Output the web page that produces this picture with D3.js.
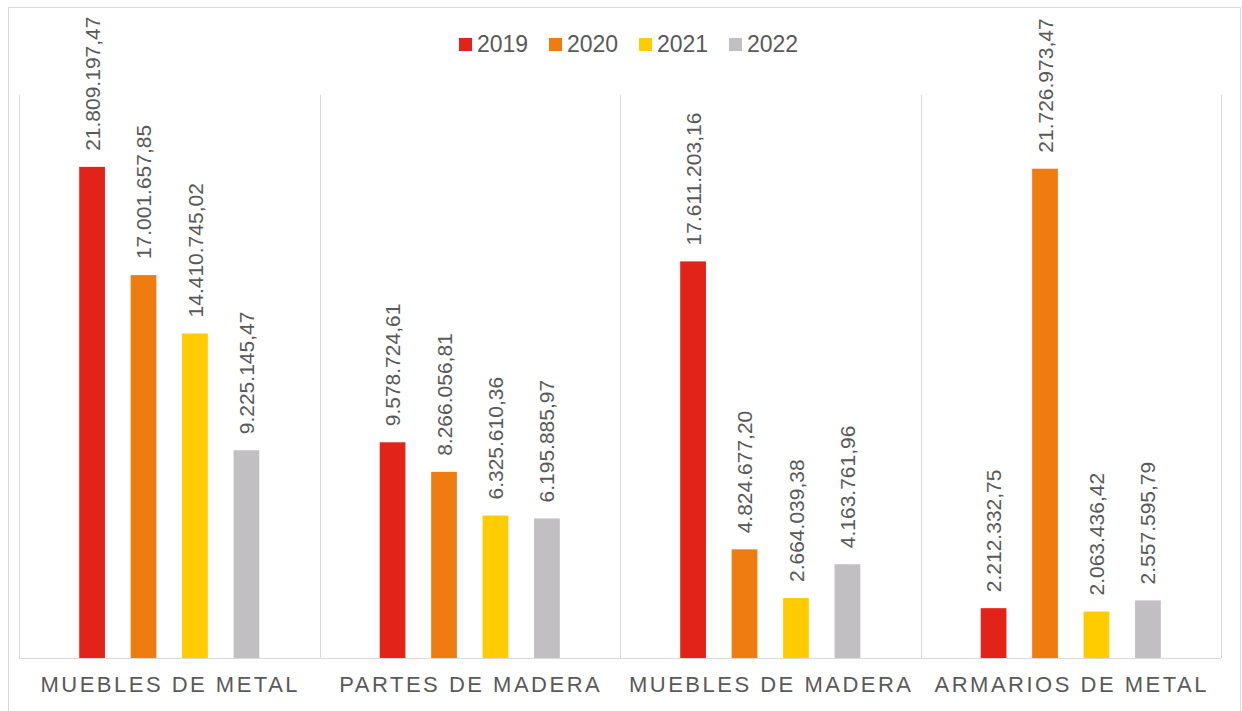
<!DOCTYPE html>
<html>
<head>
<meta charset="utf-8">
<script src="https://cdn.jsdelivr.net/npm/d3@7"></script>
<style>
  body { margin: 0; background: #fff; }
  text { font-family: Arial, "Liberation Sans", sans-serif; fill: #595959; }
</style>
</head>
<body>
<div id="chart-area"></div>
<script>
var categories = ['MUEBLES DE METAL', 'PARTES DE MADERA', 'MUEBLES DE MADERA', 'ARMARIOS DE METAL'];
var years = ['2019', '2020', '2021', '2022'];
var v2019 = [21809197.47, 9578724.61, 17611203.16, 2212332.75];
var v2020 = [17001657.85, 8266056.81, 4824677.20, 21726973.47];
var v2021 = [14410745.02, 6325610.36, 2664039.38, 2063436.42];
var v2022 = [9225145.47, 6195885.97, 4163761.96, 2557595.79];
var colors = ['#E2231A', '#EE7C11', '#FFCC00', '#C1BFC1'];

var series = [v2019, v2020, v2021, v2022];

var W = 1242, H = 711;
var margin = { top: 95, left: 19, bottom: 53, right: 21 };
var width = W - margin.left - margin.right;
var height = H - margin.top - margin.bottom;

var svg = d3.select('#chart-area').append('svg')
    .attr('width', W)
    .attr('height', H);

// outer frame
svg.append('rect')
    .attr('x', 8.5).attr('y', 7.5)
    .attr('width', 1232).attr('height', 710)
    .attr('fill', 'none')
    .attr('stroke', '#d9d9d9');

var g = svg.append('g').attr('transform', `translate(${margin.left}, ${margin.top})`);

var x0 = d3.scaleBand().domain(categories).range([0, width]);
var x1 = d3.scaleBand().domain(years).range([0, x0.bandwidth()]).paddingInner(0.5).paddingOuter(1.17);
var y = d3.scaleLinear().domain([0, 25000000]).range([height, 0]);

var fmt = d3.formatLocale({ decimal: ',', thousands: '.', grouping: [3], currency: ['', ''] }).format(',.2f');

// category separators
var seps = categories.map(c => x0(c)).concat([width]);
g.selectAll('.sep').data(seps).enter().append('line')
    .attr('class', 'sep')
    .attr('x1', d => Math.round(d) + 0.5).attr('x2', d => Math.round(d) + 0.5)
    .attr('y1', 0).attr('y2', height)
    .attr('stroke', '#d9d9d9');

g.append('line')
    .attr('x1', 0).attr('x2', width)
    .attr('y1', height + 0.5).attr('y2', height + 0.5)
    .attr('stroke', '#d9d9d9');

var rows = [];
categories.forEach((c, i) => {
    years.forEach((yr, j) => {
        rows.push({ cat: c, year: yr, value: series[j][i], color: colors[j] });
    });
});

g.selectAll('rect.bar').data(rows).enter().append('rect')
    .attr('class', 'bar')
    .attr('x', d => x0(d.cat) + x1(d.year))
    .attr('y', d => y(d.value))
    .attr('width', x1.bandwidth())
    .attr('height', d => height - y(d.value))
    .attr('fill', d => d.color);

g.selectAll('text.val').data(rows).enter().append('text')
    .attr('class', 'val')
    .attr('transform', d => `translate(${x0(d.cat) + x1(d.year) + x1.bandwidth() / 2}, ${y(d.value) - 16}) rotate(-90)`)
    .attr('dy', '0.36em')
    .attr('text-anchor', 'start')
    .attr('font-size', '21px')
    .text(d => fmt(d.value));

// category axis labels
g.selectAll('text.cat').data(categories).enter().append('text')
    .attr('class', 'cat')
    .attr('x', d => x0(d) + x0.bandwidth() / 2 + 1)
    .attr('y', height + 34)
    .attr('text-anchor', 'middle')
    .attr('font-size', '22px')
    .attr('letter-spacing', '2.5px')
    .text(d => d);

// legend
var legend = svg.append('g').attr('transform', 'translate(459, 38)');
var items = legend.selectAll('g').data(years).enter().append('g')
    .attr('transform', (d, i) => `translate(${i * 90}, 0)`);
items.append('rect')
    .attr('width', 13).attr('height', 13)
    .attr('fill', (d, i) => colors[i]);
items.append('text')
    .attr('x', 18).attr('y', 14)
    .attr('font-size', '23px')
    .text(d => d);
</script>
</body>
</html>
